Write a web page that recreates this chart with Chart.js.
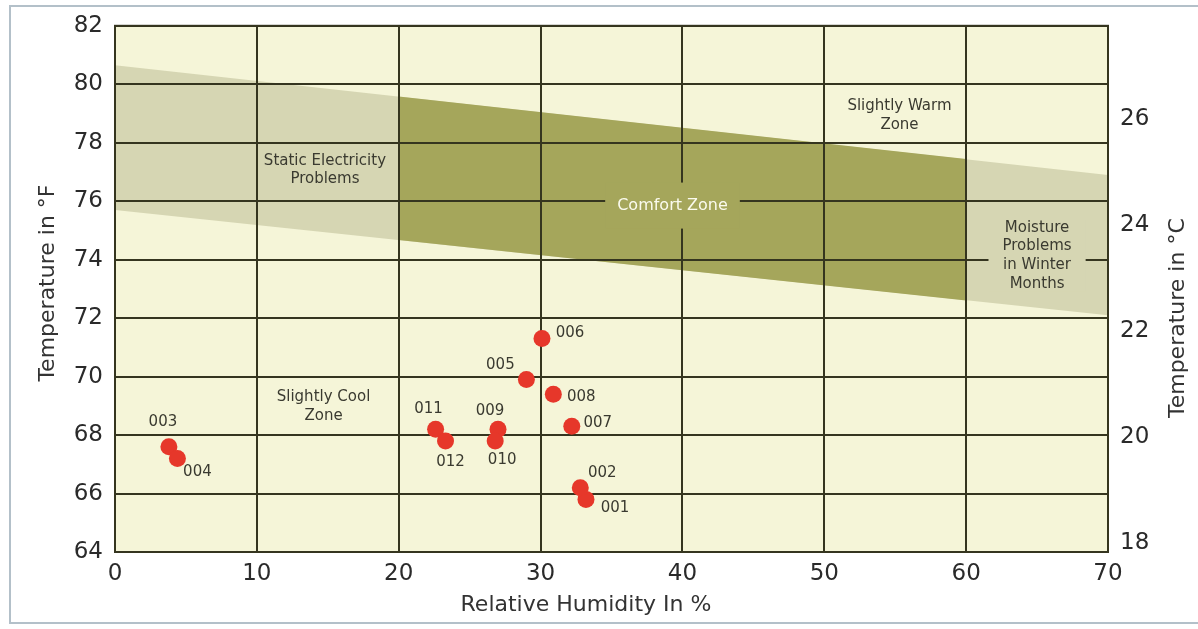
<!DOCTYPE html>
<html>
<head>
<meta charset="utf-8">
<script src="https://cdn.jsdelivr.net/npm/chart.js@4.4.1/dist/chart.umd.min.js"></script>
<style>
  html, body { margin: 0; padding: 0; background: #fff; overflow: hidden; }
  #wrap { position: relative; width: 1198px; height: 629px; }
  #frame { position: absolute; left: 9px; top: 5px; width: 1250px; height: 615px; border: 2px solid #b3c0c9; border-right: none; }
  canvas { position: absolute; left: 0; top: 0; }
</style>
</head>
<body>
<div id="wrap">
  <div id="frame"></div>
  <canvas id="chart" width="1198" height="629"></canvas>
</div>
<script>
// readings (relative humidity %, temperature °F)
const pointIds = ['001', '002', '003', '004', '005', '006', '007', '008', '009', '010', '011', '012'];
const humidity = [33.2, 32.8, 3.8, 4.4, 29.0, 30.1, 32.2, 30.9, 27.0, 26.8, 22.6, 23.3];
const tempF = [65.8, 66.2, 67.6, 67.2, 69.9, 71.3, 68.3, 69.4, 68.2, 67.8, 68.2, 67.8];

// sloped band (static electricity / moisture) and comfort zone
const bandX = [0, 70];
const bandTop = [80.65, 76.9];
const bandBottom = [75.7, 72.1];
const comfortX = [20, 60];
const comfortTop = [79.58, 77.44];
const comfortBottom = [74.67, 72.6];

// axis ticks
const humidityTicks = [0, 10, 20, 30, 40, 50, 60, 70];
const fahrenheitTicks = [64, 66, 68, 70, 72, 74, 76, 78, 80, 82];
const celsiusTicks = [18, 20, 22, 24, 26];

const FONT = 'DejaVu Sans';
const plotBg = '#f5f5d8';
const bandColor = '#d6d6b3';
const comfortColor = '#a5a65b';
const gridColor = '#35351f';
const textColor = '#3a3a30';

// label offsets in px from each point
const labelOffsets = [[29, 9], [22, -15], [-6, -25], [20, 14], [-26, -14], [28, -5],
                      [26, -3], [28, 3], [-8, -18], [7, 19], [-7, -20], [5, 21]];

const zoneLabels = [
  { lines: ['Slightly Warm', 'Zone'], x: 55.3, y: 78.93 },
  { lines: ['Static Electricity', 'Problems'], x: 14.8, y: 77.06 },
  { lines: ['Slightly Cool', 'Zone'], x: 14.7, y: 68.98 }
];

const toPts = (xs, ys) => xs.map((x, i) => ({ x: x, y: ys[i] }));

const zonePlugin = {
  id: 'zones',
  beforeDraw(chart) {
    const { ctx, chartArea: a } = chart;
    ctx.save();
    ctx.fillStyle = plotBg;
    ctx.fillRect(a.left, a.top, a.right - a.left, a.bottom - a.top);
    ctx.restore();
  },
  beforeDatasetDraw(chart, args) {
    if (args.index !== 4) return;
    const { ctx, chartArea: a, scales: { x, y } } = chart;
    ctx.save();
    // grid lines on top of the bands
    ctx.strokeStyle = gridColor;
    ctx.lineWidth = 2;
    ctx.beginPath();
    humidityTicks.forEach(v => {
      const px = Math.round(x.getPixelForValue(v));
      ctx.moveTo(px, a.top); ctx.lineTo(px, a.bottom);
    });
    fahrenheitTicks.forEach(v => {
      const py = Math.round(y.getPixelForValue(v));
      ctx.moveTo(a.left, py); ctx.lineTo(a.right, py);
    });
    ctx.stroke();

    ctx.font = '15px ' + FONT;
    ctx.textAlign = 'center';
    ctx.textBaseline = 'middle';

    // Comfort Zone label cut out of the grid
    const cx = x.getPixelForValue(39.3), cy = y.getPixelForValue(75.85);
    ctx.font = '16px ' + FONT;
    const cw = ctx.measureText('Comfort Zone').width;
    ctx.fillStyle = comfortColor;
    ctx.fillRect(cx - cw / 2 - 12, cy - 23, cw + 24, 46);
    ctx.fillStyle = '#fbfbee';
    ctx.fillText('Comfort Zone', cx, cy);
    ctx.font = '15px ' + FONT;

    // Moisture label cut out of the grid
    const mLines = ['Moisture', 'Problems', 'in Winter', 'Months'];
    const mx = x.getPixelForValue(65.0), my = y.getPixelForValue(74.13);
    const mw = Math.max(...mLines.map(s => ctx.measureText(s).width));
    ctx.fillStyle = bandColor;
    ctx.fillRect(mx - mw / 2 - 14, my - 36, mw + 28, 72);
    ctx.fillStyle = textColor;
    mLines.forEach((s, i) => ctx.fillText(s, mx, my + (i - 1.5) * 18.7));

    zoneLabels.forEach(z => {
      const zx = x.getPixelForValue(z.x), zy = y.getPixelForValue(z.y);
      z.lines.forEach((s, i) => ctx.fillText(s, zx, zy + (i - (z.lines.length - 1) / 2) * 18.5));
    });

    // plot border
    ctx.strokeStyle = gridColor;
    ctx.lineWidth = 2;
    ctx.strokeRect(a.left, a.top, a.right - a.left, a.bottom - a.top);
    ctx.restore();
  },
  afterDatasetsDraw(chart) {
    const { ctx, chartArea: a, scales: { x, y } } = chart;
    ctx.save();
    ctx.font = '15px ' + FONT;
    ctx.fillStyle = textColor;
    ctx.textAlign = 'center';
    ctx.textBaseline = 'middle';
    pointIds.forEach((id, i) => {
      const px = x.getPixelForValue(humidity[i]) + labelOffsets[i][0];
      const py = y.getPixelForValue(tempF[i]) + labelOffsets[i][1];
      ctx.fillText(id, px, py);
    });

    // axis titles
    ctx.font = '22px ' + FONT;
    ctx.fillStyle = '#333';
    ctx.fillText('Relative Humidity In %', x.getPixelForValue(33.2), 605);
    ctx.save();
    ctx.translate(48, y.getPixelForValue(73.2));
    ctx.rotate(-Math.PI / 2);
    ctx.fillText('Temperature in °F', 0, 0);
    ctx.restore();
    ctx.save();
    ctx.translate(a.right + 70, y.getPixelForValue(72));
    ctx.rotate(-Math.PI / 2);
    ctx.fillText('Temperature in °C', 0, 0);
    ctx.restore();
    ctx.restore();
  }
};

const tickFont = { family: FONT, size: 23 };

new Chart(document.getElementById('chart'), {
  type: 'scatter',
  data: {
    datasets: [
      { type: 'line', data: toPts(bandX, bandTop), fill: '+1', backgroundColor: bandColor, borderWidth: 0, pointRadius: 0, order: 5 },
      { type: 'line', data: toPts(bandX, bandBottom), fill: false, borderWidth: 0, pointRadius: 0, order: 5 },
      { type: 'line', data: toPts(comfortX, comfortTop), fill: '+1', backgroundColor: comfortColor, borderWidth: 0, pointRadius: 0, order: 4 },
      { type: 'line', data: toPts(comfortX, comfortBottom), fill: false, borderWidth: 0, pointRadius: 0, order: 4 },
      { data: toPts(humidity, tempF), backgroundColor: '#e6372a', borderWidth: 0, pointRadius: 8.5, order: 1 }
    ]
  },
  options: {
    responsive: false,
    animation: false,
    events: [],
    layout: { padding: { top: 24, left: 0, right: 0, bottom: 0 } },
    plugins: { legend: { display: false }, tooltip: { enabled: false } },
    scales: {
      x: {
        type: 'linear', min: 0, max: 70,
        afterBuildTicks: s => { s.ticks = humidityTicks.map(v => ({ value: v })); },
        afterFit: s => { s.height = 77; },
        grid: { display: false, drawTicks: false },
        border: { display: false },
        ticks: { font: tickFont, color: '#2a2a2a', padding: 8 }
      },
      y: {
        position: 'left', min: 64, max: 82,
        afterBuildTicks: s => { s.ticks = fahrenheitTicks.map(v => ({ value: v })); },
        afterFit: s => { s.width = 115; },
        grid: { display: false, drawTicks: false },
        border: { display: false },
        ticks: { font: tickFont, color: '#2a2a2a', padding: 12 }
      },
      y2: {
        position: 'right', min: 17.83, max: 27.77,
        afterBuildTicks: s => { s.ticks = celsiusTicks.map(v => ({ value: v })); },
        afterFit: s => { s.width = 90; },
        grid: { display: false, drawTicks: false },
        border: { display: false },
        ticks: { font: tickFont, color: '#2a2a2a', padding: 12 }
      }
    }
  },
  plugins: [zonePlugin]
});
</script>
</body>
</html>
